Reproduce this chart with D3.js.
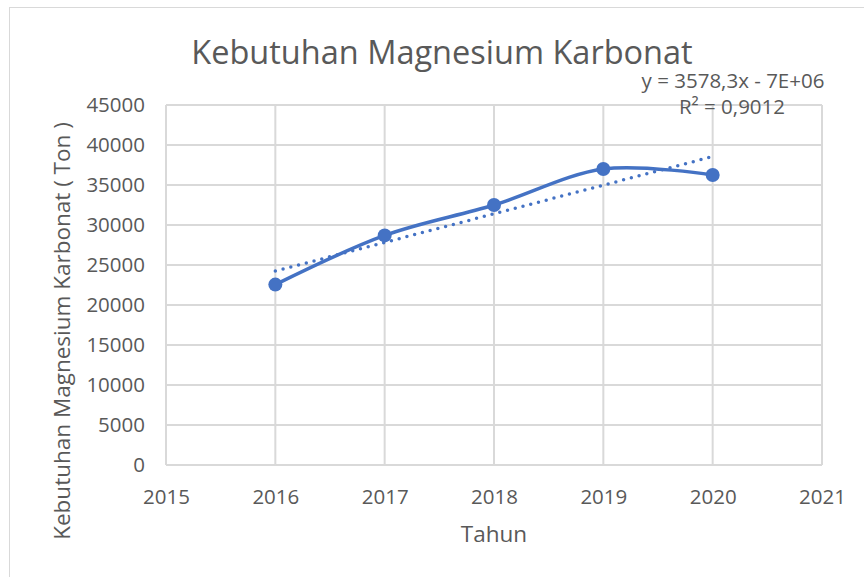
<!DOCTYPE html>
<html>
<head>
<meta charset="utf-8">
<script src="https://cdnjs.cloudflare.com/ajax/libs/d3/7.8.5/d3.min.js"></script>
<style>
  body { margin: 0; background: #fff; }
  text { font-family: "Open Sans", "Noto Sans", sans-serif; fill: #595959; }
</style>
</head>
<body>
<div id="chart"></div>
<script>
const svgWidth = 864
const svgHeight = 577

// data
const years = [2016, 2017, 2018, 2019, 2020]
const demand = [22550, 28700, 32500, 37000, 36250]
const xTicks = [2015, 2016, 2017, 2018, 2019, 2020, 2021]
const yTicks = [0, 5000, 10000, 15000, 20000, 25000, 30000, 35000, 40000, 45000]
const trendSlope = 3578.3
const trendLabel = "y = 3578,3x - 7E+06"
const r2Label = "R² = 0,9012"

let margin = { top: 105, right: 42, bottom: 112, left: 166 }
let width = svgWidth - margin.left - margin.right
let height = svgHeight - margin.top - margin.bottom

let svg = d3.select("#chart")
  .append("svg")
  .attr("width", svgWidth)
  .attr("height", svgHeight)

// outer chart border
svg.append("rect")
  .attr("x", 9.5).attr("y", 7.5)
  .attr("width", svgWidth).attr("height", svgHeight)
  .attr("fill", "none")
  .attr("stroke", "#d9d9d9")

let chartGroup = svg.append("g")
  .attr("transform", `translate(${margin.left}, ${margin.top})`)

let x = d3.scaleLinear().domain([2015, 2021]).range([0, width])
let y = d3.scaleLinear().domain([0, 45000]).range([height, 0])

// gridlines
chartGroup.append("g")
  .selectAll("line")
  .data(yTicks)
  .enter()
  .append("line")
  .attr("x1", 0).attr("x2", width)
  .attr("y1", d => y(d)).attr("y2", d => y(d))
  .attr("stroke", "#d9d9d9").attr("stroke-width", 2)

chartGroup.append("g")
  .selectAll("line")
  .data(xTicks)
  .enter()
  .append("line")
  .attr("x1", d => x(d)).attr("x2", d => x(d))
  .attr("y1", 0).attr("y2", height)
  .attr("stroke", "#d9d9d9").attr("stroke-width", 2)

// axes, text only
let bottomAxis = d3.axisBottom(x).tickValues(xTicks).tickFormat(d3.format("d")).tickSize(0).tickPadding(24)
let leftAxis = d3.axisLeft(y).tickValues(yTicks).tickFormat(d3.format("d")).tickSize(0).tickPadding(21)

let xAxis = chartGroup.append("g")
  .attr("transform", `translate(0, ${height})`)
  .call(bottomAxis)
let yAxis = chartGroup.append("g").call(leftAxis)

;[xAxis, yAxis].forEach(a => {
  a.select(".domain").remove()
  a.selectAll("text")
    .attr("font-size", "20.5px")
    .attr("fill", "#595959")
    .style("font-family", "\"Open Sans\", \"Noto Sans\", sans-serif")
})

let data = years.map((yr, i) => ({ year: yr, value: demand[i] }))

// linear trendline through the data mean
let meanX = d3.mean(years)
let meanY = d3.mean(demand)
let trend = years.filter((d, i) => i === 0 || i === years.length - 1)
  .map(yr => ({ year: yr, value: meanY + trendSlope * (yr - meanX) }))

chartGroup.append("path")
  .datum(trend)
  .attr("d", d3.line().x(d => x(d.year)).y(d => y(d.value)))
  .attr("fill", "none")
  .attr("stroke", "#4472c4")
  .attr("stroke-width", 3.5)
  .attr("stroke-linecap", "round")
  .attr("stroke-dasharray", "0 8")

// smoothed series line
chartGroup.append("path")
  .datum(data)
  .attr("d", d3.line().curve(d3.curveCatmullRom.alpha(0)).x(d => x(d.year)).y(d => y(d.value)))
  .attr("fill", "none")
  .attr("stroke", "#4472c4")
  .attr("stroke-width", 3.5)
  .attr("stroke-linecap", "round")

chartGroup.selectAll("circle")
  .data(data)
  .enter()
  .append("circle")
  .attr("cx", d => x(d.year))
  .attr("cy", d => y(d.value))
  .attr("r", 7)
  .attr("fill", "#4472c4")

// title
svg.append("text")
  .attr("x", 442).attr("y", 64)
  .attr("text-anchor", "middle")
  .attr("font-size", "32.5px")
  .text("Kebutuhan Magnesium Karbonat")

// trendline label
svg.append("text")
  .attr("x", 733).attr("y", 88)
  .attr("text-anchor", "middle")
  .attr("font-size", "20.5px")
  .text(trendLabel)
svg.append("text")
  .attr("x", 732).attr("y", 114)
  .attr("text-anchor", "middle")
  .attr("font-size", "20.5px")
  .text(r2Label)

// axis titles
svg.append("text")
  .attr("x", margin.left + width / 2).attr("y", 542)
  .attr("text-anchor", "middle")
  .attr("font-size", "22.5px")
  .text("Tahun")

svg.append("text")
  .attr("transform", `translate(70, 331) rotate(-90)`)
  .attr("text-anchor", "middle")
  .attr("font-size", "22.5px")
  .text("Kebutuhan Magnesium Karbonat ( Ton )")
</script>
</body>
</html>
